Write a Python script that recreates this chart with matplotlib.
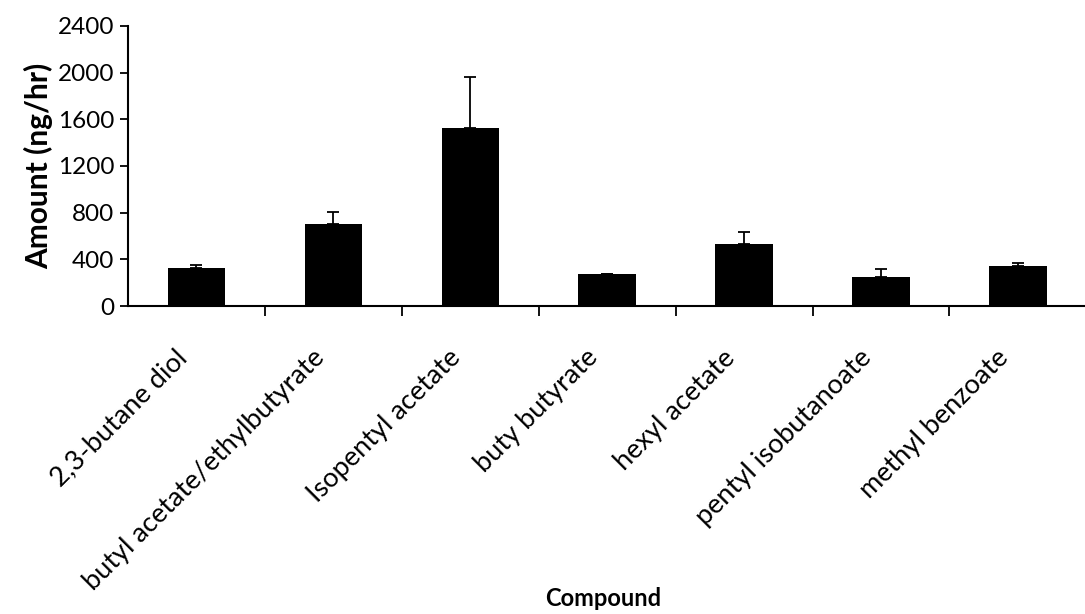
import matplotlib
matplotlib.use("Agg")
import matplotlib.pyplot as plt
import matplotlib.transforms as mtransforms
import numpy as np

compounds = ["2,3-butane diol", "butyl acetate/ethylbutyrate", "Isopentyl acetate",
             "buty butyrate", "hexyl acetate", "pentyl isobutanoate", "methyl benzoate"]
amounts = [330, 700, 1525, 275, 535, 245, 340]
errors_up = [25, 105, 440, 0, 100, 75, 25]
yticks = [0, 400, 800, 1200, 1600, 2000, 2400]

plt.rcParams['font.family'] = ['Lato', 'DejaVu Sans']

fig = plt.figure(figsize=(10.85, 6.14), dpi=100)
ax = fig.add_axes([0.118, 0.5016, 0.882, 0.4561])

x = np.arange(len(compounds))
ax.bar(x, amounts, width=0.42, color='black', zorder=2)
ax.errorbar(x, amounts, yerr=[[0] * len(errors_up), errors_up], fmt='none',
            ecolor='black', elinewidth=1.3, capsize=4, capthick=1.3, zorder=3)

ax.set_xlim(-0.5, 6.49)
ax.set_ylim(0, 2400)
ax.set_yticks(yticks)
ax.set_yticklabels([str(v) for v in yticks], fontsize=17.5)

ax.set_xticks(x)
ax.set_xticklabels(compounds, rotation=45, ha='right', va='top',
                   rotation_mode='anchor', fontsize=19.5)
ax.tick_params(axis='x', which='major', length=0, pad=28)
shift = mtransforms.ScaledTranslation(-22 / 100, 0, fig.dpi_scale_trans)
for lab in ax.get_xticklabels():
    lab.set_transform(lab.get_transform() + shift)
ax.set_xticks(np.arange(0.5, 6.0, 1.0), minor=True)
ax.tick_params(axis='x', which='minor', length=7, width=1.3, direction='out')
ax.tick_params(axis='y', length=6, width=1.3, direction='out', pad=4)

for s in ['top', 'right']:
    ax.spines[s].set_visible(False)
for s in ['left', 'bottom']:
    ax.spines[s].set_linewidth(1.5)

ax.set_ylabel("Amount (ng/hr)", fontsize=21.5, fontweight='bold', labelpad=3)
fig.text(0.556, 0.025, "Compound", fontsize=17, fontweight='bold', ha='center', va='center')

fig.savefig("out.png", dpi=100)
